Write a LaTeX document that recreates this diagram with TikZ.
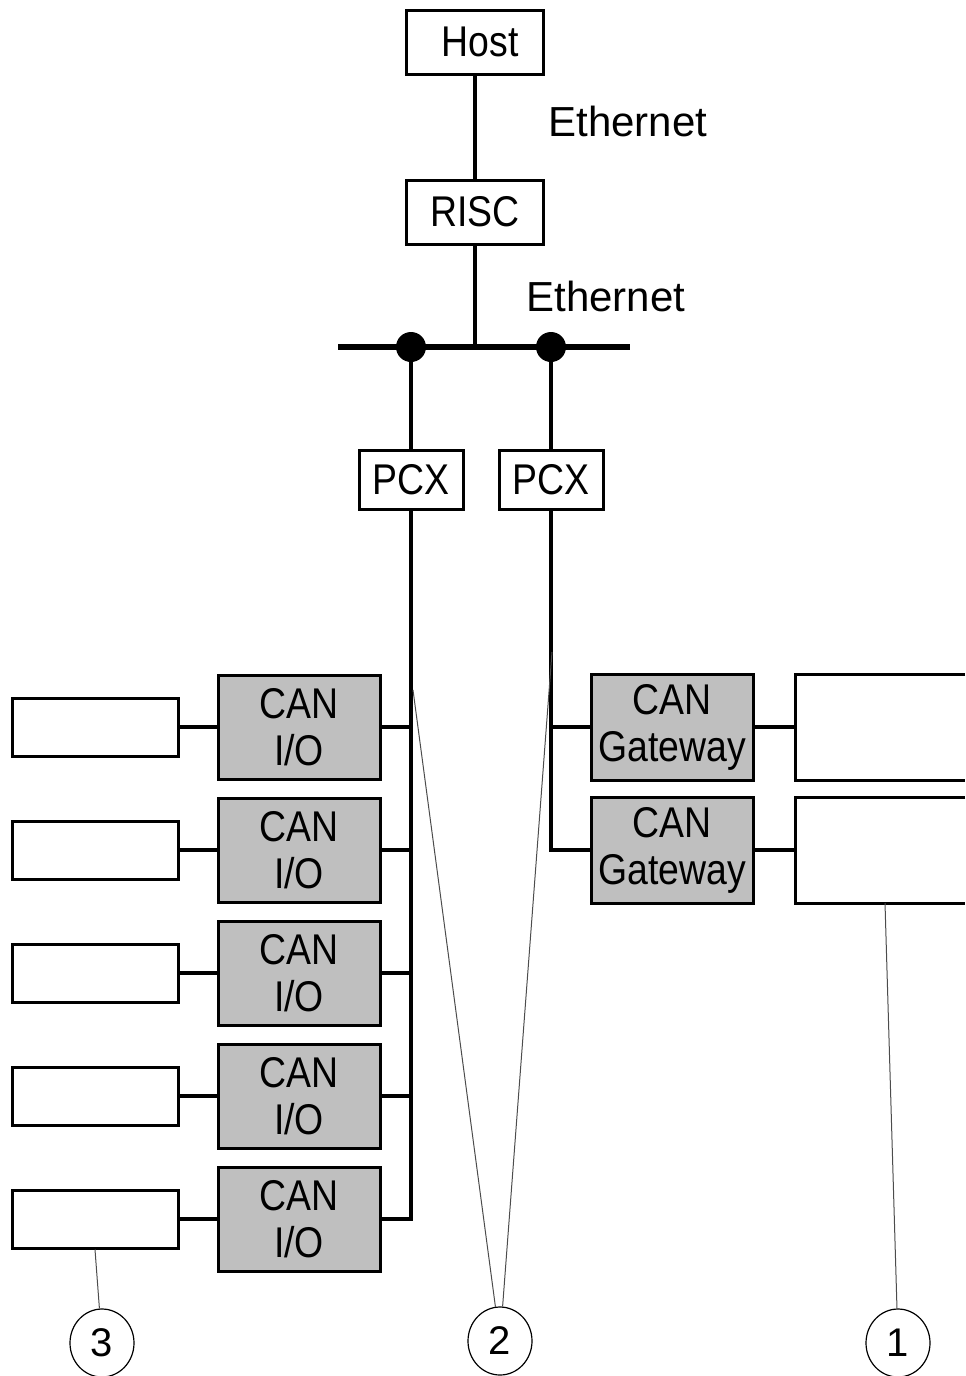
\documentclass[tikz,border=0pt]{standalone}
\usepackage{fontspec}
\setmainfont{Liberation Sans}
\newfontfamily\boxfont[FakeStretch=0.87]{Liberation Sans}
\usetikzlibrary{positioning,shapes.geometric}

\begin{document}
\begin{tikzpicture}[
    x=0.5pt, y=-0.5pt,
    box/.style={
        rectangle,
        draw,
        line width=1.5pt,
        inner sep=0pt,
        align=center,
        font=\boxfont\fontsize{21.5}{23.5}\selectfont
    },
    cpu/.style={box, minimum width=68.5pt, minimum height=32pt},
    pcx/.style={box, minimum width=52pt, minimum height=29.5pt},
    canbox/.style={box, fill=black!25, minimum width=81pt, minimum height=52pt},
    devbox/.style={box, minimum width=83pt, minimum height=29pt},
    link/.style={line width=2.2pt, line join=miter},
    bus/.style={line width=3pt},
    lead/.style={line width=0.5pt, draw=black!70},
    callout/.style={ellipse, draw, line width=0.6pt, minimum width=32pt,
        minimum height=34pt, inner sep=0pt, font=\fontsize{20}{20}\selectfont},
    nettext/.style={font=\fontsize{21}{24}\selectfont, anchor=west, inner sep=0pt}
]

\useasboundingbox (0,0) rectangle (965,1376);

%% ===== Ethernet level =====
\node[cpu] (host) at (475,42) {\hspace*{5pt}Host};
\node[cpu] (risc) at (475,212) {RISC};
\node[nettext] (eth1) at (548,121) {Ethernet};
\node[nettext] (eth2) at (526,296) {Ethernet};

\coordinate (busL) at (338,347);
\coordinate (busR) at (630,347);
\coordinate (tapA) at (411,347);
\coordinate (tapB) at (551,347);

\draw[link] (host) -- (risc);
\draw[link] (risc) -- (risc |- busL);
\draw[bus] (busL) -- (busR);
\fill (tapA) circle (7.5pt);
\fill (tapB) circle (7.5pt);

\node[pcx] (pcxA) at (411,479.5) {PCX};
\node[pcx] (pcxB) at (551,479.5) {PCX};

\draw[link] (tapA) -- (pcxA);
\draw[link] (tapB) -- (pcxB);

%% ===== CAN I/O branch =====
\foreach \i/\y in {1/727,2/850,3/973,4/1096,5/1219} {
    \node[canbox] (io\i) at (299,\y) {CAN\\I/O};
    \node[devbox] (dev\i) at (95,\y) {};
    \draw[link] (dev\i) -- (io\i);
}
\foreach \i in {1,2,3,4} {
    \draw[link] (io\i.east) -- (io\i.east -| pcxA.south);
}
\draw[link] (pcxA.south) -- (pcxA.south |- io5.east) -- (io5.east);

%% ===== CAN Gateway branch =====
\node[canbox, minimum height=53pt] (gw1) at (672,727) {CAN\\Gateway};
\node[canbox, minimum height=53pt] (gw2) at (672,850) {CAN\\Gateway};

\draw[link] (gw1.west -| pcxB.south) -- (gw1.west);
\draw[link] (pcxB.south) -- (pcxB.south |- gw2.west) -- (gw2.west);

% field boxes, cut off at the right edge
\coordinate (fld1) at (795,727);
\coordinate (fld2) at (795,850);
\draw[line width=1.5pt] (965,674) -- (795,674) -- (795,780) -- (965,780);
\draw[line width=1.5pt] (965,797) -- (795,797) -- (795,903) -- (965,903);
\draw[link] (gw1) -- (fld1);
\draw[link] (gw2) -- (fld2);

%% ===== callouts =====
\node[callout] (c3) at (102,1343) {\raisebox{-3pt}{3}};
\node[callout] (c2) at (500,1341) {2};
\node[callout] (c1) at (898,1343) {\raisebox{-2pt}{1}};

\coordinate (hitA) at (413,690);
\coordinate (hitB) at (552,652);
\coordinate (hitF) at (885,903);

\draw[lead] (c3) -- (dev5.south);
\draw[lead] (c2) -- (hitA);
\draw[lead] (c2) -- (hitB);
\draw[lead] (c1) -- (hitF);

\end{tikzpicture}
\end{document}
